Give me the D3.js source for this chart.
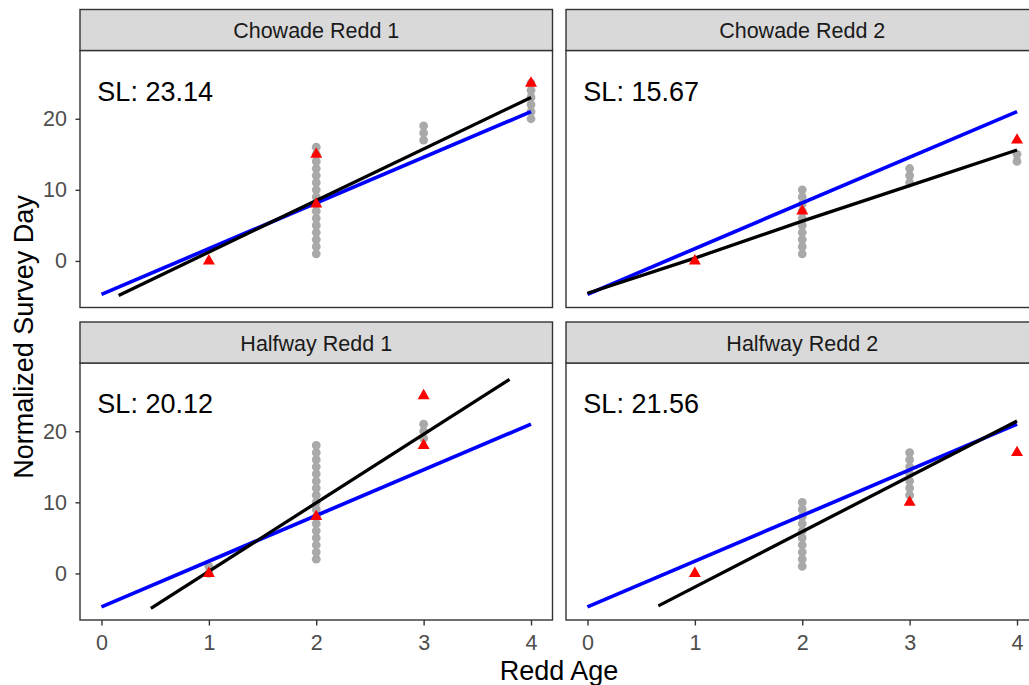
<!DOCTYPE html>
<html>
<head>
<meta charset="utf-8">
<script src="https://cdn.jsdelivr.net/npm/d3@7"></script>
<style>
  html, body { margin: 0; padding: 0; background: #ffffff; }
  svg { display: block; font-family: "Liberation Sans", Arial, sans-serif; }
</style>
</head>
<body>
<svg id="chart" width="1029" height="685"></svg>
<script>
// ---------------- DATA ----------------
const panelTitles = ["Chowade Redd 1", "Chowade Redd 2", "Halfway Redd 1", "Halfway Redd 2"];
const slLabels = ["SL: 23.14", "SL: 15.67", "SL: 20.12", "SL: 21.56"];
const xTicks = [0, 1, 2, 3, 4];
const yTicks = [0, 10, 20];
const xTitle = "Redd Age";
const yTitle = "Normalized Survey Day";

// grey observations (redd age, survey day)
const greyChowade1 = [
  [2,1],[2,2],[2,3],[2,4],[2,5],[2,6],[2,7],[2,8],[2,9],[2,10],[2,11],[2,12],[2,13],[2,14],[2,15],[2,16],
  [3,17],[3,18],[3,19],
  [4,20],[4,21],[4,22],[4,23],[4,24],[4,25]
];
const greyChowade2 = [
  [2,1],[2,2],[2,3],[2,4],[2,5],[2,6],[2,7],[2,8],[2,9],[2,10],
  [3,11],[3,12],[3,13],
  [4,14],[4,15]
];
const greyHalfway1 = [
  [1,0],[1,1],
  [2,2],[2,3],[2,4],[2,5],[2,6],[2,7],[2,8],[2,9],[2,10],[2,11],[2,12],[2,13],[2,14],[2,15],[2,16],[2,17],[2,18],
  [3,19],[3,20],[3,21]
];
const greyHalfway2 = [
  [2,1],[2,2],[2,3],[2,4],[2,5],[2,6],[2,7],[2,8],[2,9],[2,10],
  [3,11],[3,12],[3,13],[3,14],[3,15],[3,16],[3,17]
];

// red triangles
const redChowade1 = [[1,0],[2,15],[2,8],[4,25]];
const redChowade2 = [[1,0],[2,7],[4,17]];
const redHalfway1 = [[1,0],[2,8],[3,25],[3,18]];
const redHalfway2 = [[1,0],[3,10],[4,17]];

// black fitted lines
const blackChowade1 = [[0.16,-4.85],[4,23.0]];
const blackChowade2 = [[0,-4.55],[1,0.4],[2,5.6],[3,10.6],[4,15.6]];
const blackHalfway1 = [[0.46,-4.93],[3.80,27.3]];
const blackHalfway2 = [[0.66,-4.56],[4,21.45]];

// blue reference line (same in all panels)
const blueLine = [[0,-4.7],[4,21.0]];

const greySets = [greyChowade1, greyChowade2, greyHalfway1, greyHalfway2];
const redSets = [redChowade1, redChowade2, redHalfway1, redHalfway2];
const blackSets = [blackChowade1, blackChowade2, blackHalfway1, blackHalfway2];

// ---------------- LAYOUT ----------------
const svg = d3.select("#chart");
const colLeft = [80, 566];
const panelW = 472.5;
const rowStripTop = [9.5, 322];
const stripH = 41;
const plotH = 257;
const xDomain = [-0.2, 4.2];
const yDomain = [-6.55, 29.6];
const smallFont = 21.5;
const titleFont = 27;

const defs = svg.append("defs");

panelTitles.forEach((title, i) => {
  const col = i % 2, row = Math.floor(i / 2);
  const left = colLeft[col];
  const stripTop = rowStripTop[row];
  const top = stripTop + stripH;
  const bottom = top + plotH;

  const x = d3.scaleLinear().domain(xDomain).range([left, left + panelW]);
  const y = d3.scaleLinear().domain(yDomain).range([bottom, top]);

  const clipId = "clip" + i;
  defs.append("clipPath").attr("id", clipId)
    .append("rect").attr("x", left).attr("y", top).attr("width", panelW).attr("height", plotH);

  const g = svg.append("g");

  g.append("rect").attr("x", left).attr("y", top).attr("width", panelW).attr("height", plotH)
    .attr("fill", "#ffffff");

  const inner = g.append("g").attr("clip-path", `url(#${clipId})`);

  // grey points
  inner.selectAll("circle.grey").data(greySets[i]).enter().append("circle")
    .attr("class", "grey")
    .attr("cx", d => x(d[0])).attr("cy", d => y(d[1])).attr("r", 4.4)
    .attr("fill", "#A9A9A9");

  const line = d3.line().x(d => x(d[0])).y(d => y(d[1]));

  // blue line
  inner.append("path").datum(blueLine).attr("d", line)
    .attr("fill", "none").attr("stroke", "#0000FF").attr("stroke-width", 3.7);

  // black line
  inner.append("path").datum(blackSets[i]).attr("d", line)
    .attr("fill", "none").attr("stroke", "#000000").attr("stroke-width", 3.3);

  // red triangles
  inner.selectAll("path.tri").data(redSets[i]).enter().append("path")
    .attr("class", "tri")
    .attr("d", d3.symbol().type(d3.symbolTriangle).size(62))
    .attr("transform", d => `translate(${x(d[0])},${y(d[1])})`)
    .attr("fill", "#FF0000");

  // SL label
  g.append("text")
    .attr("x", x(0.5)).attr("y", y(22.5))
    .attr("text-anchor", "middle")
    .attr("font-size", 27).attr("fill", "#000000")
    .text(slLabels[i]);

  // panel border
  g.append("rect").attr("x", left).attr("y", top).attr("width", panelW).attr("height", plotH)
    .attr("fill", "none").attr("stroke", "#333333").attr("stroke-width", 1.4);

  // strip
  g.append("rect").attr("x", left).attr("y", stripTop).attr("width", panelW).attr("height", stripH)
    .attr("fill", "#D9D9D9").attr("stroke", "#333333").attr("stroke-width", 1.4);
  g.append("text")
    .attr("x", left + panelW / 2).attr("y", stripTop + stripH / 2)
    .attr("dy", "0.38em")
    .attr("text-anchor", "middle").attr("font-size", smallFont).attr("fill", "#1A1A1A")
    .text(title);

  // y axis for left column
  if (col === 0) {
    const ya = g.append("g").attr("transform", `translate(${left},0)`)
      .call(d3.axisLeft(y).tickValues(yTicks).tickSize(4.5).tickPadding(8.5).tickFormat(d3.format("d")));
    ya.select(".domain").remove();
    ya.selectAll(".tick line").attr("stroke", "#333333").attr("stroke-width", 1.4);
    ya.selectAll(".tick text").attr("fill", "#4D4D4D").attr("font-size", smallFont)
      .attr("font-family", "Liberation Sans, Arial, sans-serif");
  }
  // x axis for bottom row
  if (row === 1) {
    const xa = g.append("g").attr("transform", `translate(0,${bottom})`)
      .call(d3.axisBottom(x).tickValues(xTicks).tickSize(5.5).tickPadding(9).tickFormat(d3.format("d")));
    xa.select(".domain").remove();
    xa.selectAll(".tick line").attr("stroke", "#333333").attr("stroke-width", 1.4);
    xa.selectAll(".tick text").attr("fill", "#4D4D4D").attr("font-size", smallFont)
      .attr("font-family", "Liberation Sans, Arial, sans-serif");
  }
});

// axis titles
svg.append("text")
  .attr("x", 559).attr("y", 680)
  .attr("text-anchor", "middle").attr("font-size", titleFont).attr("fill", "#000000")
  .text(xTitle);
svg.append("text")
  .attr("transform", "translate(33,337) rotate(-90)")
  .attr("text-anchor", "middle").attr("font-size", titleFont).attr("fill", "#000000")
  .text(yTitle);
</script>
</body>
</html>
